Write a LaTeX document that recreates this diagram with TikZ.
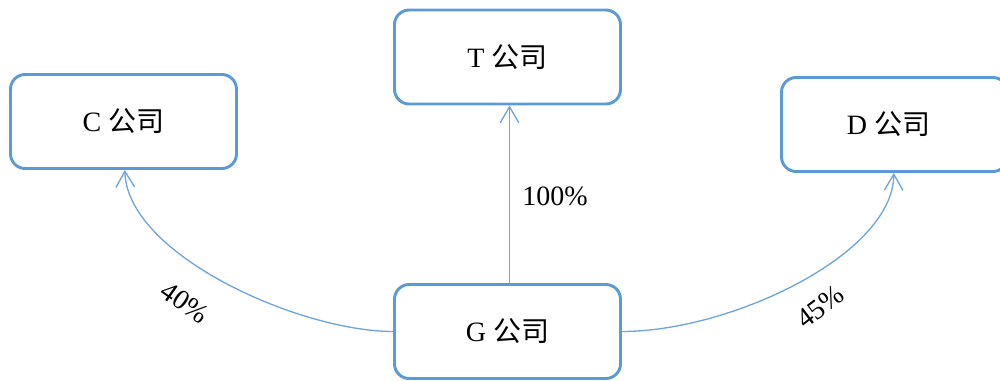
\documentclass[tikz,border=0pt]{standalone}
\usepackage{fontspec}
\setmainfont{Liberation Serif}
\newfontfamily\cjk{Noto Sans CJK SC}
\usetikzlibrary{arrows.meta}
\definecolor{boxblue}{RGB}{91,155,213}
\definecolor{arrblue}{RGB}{110,165,220}
\begin{document}
\begin{tikzpicture}[x=0.75pt,y=-0.75pt,
  company/.style={draw=boxblue,line width=2.2pt,rounded corners=11pt,
    minimum width=169.5pt,minimum height=70.5pt,inner sep=0pt,
    font=\fontsize{21}{25}\selectfont},
  share/.style={draw=arrblue,line width=1pt,
    -{Straight Barb[length=12pt,width=14pt,line width=1pt]}},
  pct/.style={font=\fontsize{21}{25}\selectfont,inner sep=1pt}]
\useasboundingbox (0,0) rectangle (1000,381);
\clip (0,0) rectangle (1000,381);
\node[company] (C) at (123.5,121.5) {C {\cjk 公司}};
\node[company] (T) at (507.5,57) {T {\cjk 公司}};
\node[company] (D) at (894.5,124.5) {\hspace*{-9pt}D {\cjk 公司}};
\node[company] (G) at (507.5,331.5) {G {\cjk 公司}};
\draw[share] ([xshift=1.5pt]G.north) -- ([xshift=1.5pt]T.south);
\draw[share] (G.west) .. controls (300,331.5) and (127,255) .. ([xshift=1pt]C.south);
\draw[share] (G.east) .. controls (730,331.5) and (893,255) .. ([xshift=-0.5pt]D.south);
\node[pct] (p100) at (555,196) {100\%};
\node[pct,rotate=-35] (p40) at (185,303) {40\%};
\node[pct,rotate=37] (p45) at (820,307) {45\%};
\end{tikzpicture}
\end{document}
